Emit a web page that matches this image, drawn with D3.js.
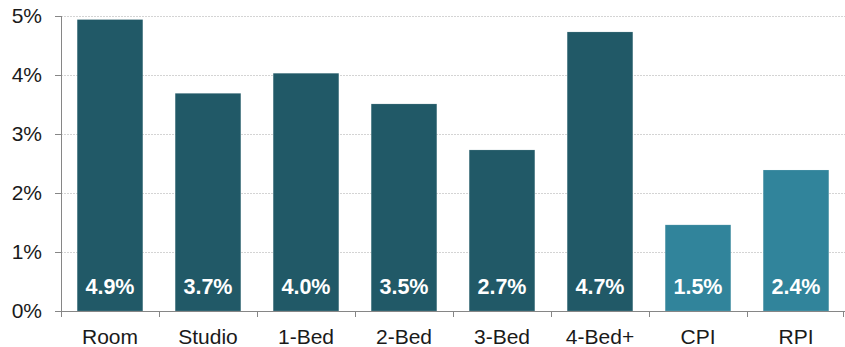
<!DOCTYPE html>
<html>
<head>
<meta charset="utf-8">
<script src="https://cdn.jsdelivr.net/npm/d3@7"></script>
<style>
  body { margin: 0; background: #fff; }
  #chart text { font-family: "Liberation Sans", Arial, sans-serif; }
</style>
</head>
<body>
<div id="chart"></div>
<script>
// data
var categories = ["Room", "Studio", "1-Bed", "2-Bed", "3-Bed", "4-Bed+", "CPI", "RPI"];
var values = [4.94, 3.69, 4.03, 3.51, 2.73, 4.73, 1.46, 2.39];
var labels = ["4.9%", "3.7%", "4.0%", "3.5%", "2.7%", "4.7%", "1.5%", "2.4%"];
var groups = ["rent", "rent", "rent", "rent", "rent", "rent", "inflation", "inflation"];
var yTicks = [0, 1, 2, 3, 4, 5];

var margin = { top: 16, right: 0, bottom: 36, left: 61 };
var width = 845 - margin.left - margin.right;
var height = 347 - margin.top - margin.bottom;

var svg = d3.select("#chart")
    .append("svg")
    .attr("width", width + margin.left + margin.right)
    .attr("height", height + margin.top + margin.bottom)
    .append("g")
    .attr("transform", "translate(" + margin.left + "," + margin.top + ")");

var xScale = d3.scaleBand()
    .domain(categories)
    .range([0, width])
    .paddingInner(0.33)
    .paddingOuter(0.165);

var yScale = d3.scaleLinear().domain([0, 5]).range([height, 0]);

var colour = d3.scaleOrdinal()
    .domain(["rent", "inflation"])
    .range(["#215967", "#31849b"]);

// gridlines
svg.append("g")
    .selectAll("line")
    .data(yTicks.slice(1))
    .join("line")
    .attr("x1", -6)
    .attr("x2", width)
    .attr("y1", d => yScale(d) + 0.5)
    .attr("y2", d => yScale(d) + 0.5)
    .style("stroke", "#d4d4d4")
    .style("stroke-width", 1)
    .style("stroke-dasharray", "2,1");

// bars
var data = categories.map((c, i) => ({ cat: c, v: values[i], label: labels[i], g: groups[i] }));

svg.selectAll(".bar")
    .data(data)
    .join("rect")
    .attr("class", "bar")
    .attr("x", d => xScale(d.cat))
    .attr("y", d => yScale(d.v))
    .attr("width", xScale.bandwidth())
    .attr("height", d => height - yScale(d.v))
    .style("fill", d => colour(d.g))
    .style("stroke", "rgba(255,255,255,0.25)")
    .style("stroke-width", 0.6);

// value labels
svg.selectAll(".val")
    .data(data)
    .join("text")
    .attr("class", "val")
    .attr("x", d => xScale(d.cat) + xScale.bandwidth() / 2)
    .attr("y", height - 17)
    .style("text-anchor", "middle")
    .style("fill", "#fff")
    .style("font-weight", "bold")
    .style("font-size", "21.5px")
    .text(d => d.label);

// y axis
var yAxis = svg.append("g")
    .call(d3.axisLeft(yScale).tickValues(yTicks).tickFormat(d => d + "%").tickSize(6).tickPadding(13));
yAxis.select(".domain").style("stroke", "#868686").attr("d", "M0.5," + yScale(5) + "V" + (height + 6));
yAxis.selectAll(".tick line").style("stroke", "#868686");
yAxis.selectAll(".tick text").style("font-size", "21px").style("fill", "#1a1a1a");

// x axis with ticks at band edges
var xAxis = svg.append("g")
    .attr("transform", "translate(0," + height + ")");
xAxis.append("line")
    .attr("x1", 0).attr("x2", width)
    .attr("y1", 0.5).attr("y2", 0.5)
    .style("stroke", "#868686");
xAxis.selectAll(".edge")
    .data(categories.slice(1).concat(["end"]))
    .join("line")
    .attr("class", "edge")
    .attr("x1", (d, i) => Math.round(i < categories.length - 1 ? xScale(d) - xScale.step() * xScale.paddingInner() / 2 : width - 2) + 0.5)
    .attr("x2", (d, i) => Math.round(i < categories.length - 1 ? xScale(d) - xScale.step() * xScale.paddingInner() / 2 : width - 2) + 0.5)
    .attr("y1", 0).attr("y2", 6)
    .style("stroke", "#868686");
xAxis.selectAll(".cat")
    .data(categories)
    .join("text")
    .attr("class", "cat")
    .attr("x", d => xScale(d) + xScale.bandwidth() / 2)
    .attr("y", 33)
    .style("text-anchor", "middle")
    .style("font-size", "21px")
    .style("fill", "#1a1a1a")
    .text(d => d);
</script>
</body>
</html>
